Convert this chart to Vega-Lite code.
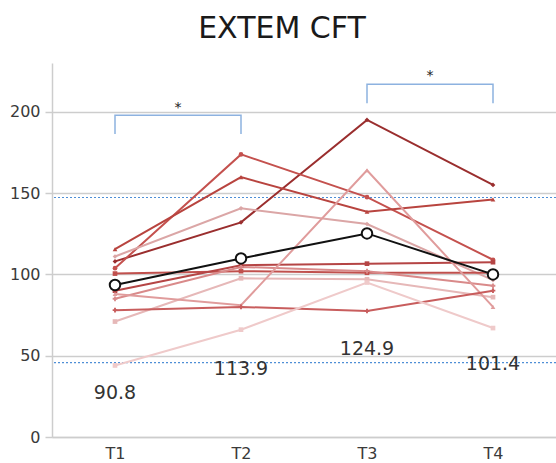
{
  "$schema": "https://vega.github.io/schema/vega-lite/v6.json",
  "width": 504,
  "height": 374,
  "autosize": {"type": "none"},
  "padding": {"left": 52, "top": 63, "right": 0, "bottom": 26},
  "background": "white",
  "config": {"view": {"stroke": null}, "font": "DejaVu Sans"},
  "title": {"text": "EXTEM CFT", "fontSize": 30, "fontWeight": "normal", "color": "#1a1a1a", "anchor": "middle", "dx": -22, "offset": 19, "font": "DejaVu Sans"},
  "datasets": {
    "patients": [
      {"p": "P01", "t": 1, "v": 108}, {"p": "P01", "t": 2, "v": 132}, {"p": "P01", "t": 3, "v": 195}, {"p": "P01", "t": 4, "v": 155},
      {"p": "P02", "t": 1, "v": 103.8}, {"p": "P02", "t": 2, "v": 173.8}, {"p": "P02", "t": 3, "v": 147.5}, {"p": "P02", "t": 4, "v": 109},
      {"p": "P03", "t": 1, "v": 115.5}, {"p": "P03", "t": 2, "v": 159.8}, {"p": "P03", "t": 3, "v": 138.5}, {"p": "P03", "t": 4, "v": 146},
      {"p": "P04", "t": 1, "v": 111}, {"p": "P04", "t": 2, "v": 140.6}, {"p": "P04", "t": 3, "v": 131}, {"p": "P04", "t": 4, "v": 96.5},
      {"p": "P05", "t": 1, "v": 100.5}, {"p": "P05", "t": 2, "v": 102}, {"p": "P05", "t": 3, "v": 101}, {"p": "P05", "t": 4, "v": 101},
      {"p": "P06", "t": 1, "v": 90}, {"p": "P06", "t": 2, "v": 105.6}, {"p": "P06", "t": 3, "v": 106.6}, {"p": "P06", "t": 4, "v": 107.5},
      {"p": "P07", "t": 1, "v": 85}, {"p": "P07", "t": 2, "v": 104.6}, {"p": "P07", "t": 3, "v": 102}, {"p": "P07", "t": 4, "v": 93},
      {"p": "P08", "t": 1, "v": 71}, {"p": "P08", "t": 2, "v": 97.6}, {"p": "P08", "t": 3, "v": 97}, {"p": "P08", "t": 4, "v": 86},
      {"p": "P09", "t": 1, "v": 88}, {"p": "P09", "t": 2, "v": 81}, {"p": "P09", "t": 3, "v": 164}, {"p": "P09", "t": 4, "v": 80},
      {"p": "P10", "t": 1, "v": 78}, {"p": "P10", "t": 2, "v": 80}, {"p": "P10", "t": 3, "v": 77.5}, {"p": "P10", "t": 4, "v": 90},
      {"p": "P11", "t": 1, "v": 44}, {"p": "P11", "t": 2, "v": 66}, {"p": "P11", "t": 3, "v": 95}, {"p": "P11", "t": 4, "v": 67}
    ],
    "mean": [
      {"t": 1, "v": 93.5, "label": "90.8", "ly": 27.2},
      {"t": 2, "v": 109.8, "label": "113.9", "ly": 42},
      {"t": 3, "v": 125.2, "label": "124.9", "ly": 54.3},
      {"t": 4, "v": 100, "label": "101.4", "ly": 45}
    ],
    "refs": [{"r": 147.3}, {"r": 45.7}],
    "brackets": [
      {"b": "A", "o": 1, "t": 1, "v": 186.3}, {"b": "A", "o": 2, "t": 1, "v": 197.9}, {"b": "A", "o": 3, "t": 2, "v": 197.9}, {"b": "A", "o": 4, "t": 2, "v": 186.3},
      {"b": "B", "o": 1, "t": 3, "v": 205.3}, {"b": "B", "o": 2, "t": 3, "v": 217}, {"b": "B", "o": 3, "t": 4, "v": 217}, {"b": "B", "o": 4, "t": 4, "v": 205.3}
    ],
    "stars": [{"t": 1.5, "v": 199.8, "s": "*"}, {"t": 3.5, "v": 219.5, "s": "*"}]
  },
  "layer": [
    {
      "data": {"name": "refs"},
      "mark": {"type": "rule", "color": "#4f8fd6", "strokeWidth": 1.2, "strokeDash": [2, 2]},
      "encoding": {
        "y": {"field": "r", "type": "quantitative", "scale": {"domain": [0, 230], "nice": false},
          "axis": {"values": [0, 50, 100, 150, 200], "grid": true, "gridColor": "#cdcdcd", "gridWidth": 1.5, "domainColor": "#cdcdcd", "domainWidth": 1.5, "tickColor": "#cdcdcd", "tickSize": 7, "tickWidth": 1.5, "labelFontSize": 16, "labelColor": "#3a3a3a", "labelPadding": 5, "title": null}}
      }
    },
    {
      "data": {"name": "patients"},
      "mark": {"type": "line", "strokeWidth": 2},
      "encoding": {
        "x": {"field": "t", "type": "quantitative", "scale": {"domain": [0.5, 4.5], "nice": false},
          "axis": {"values": [1, 2, 3, 4], "labelExpr": "'T' + datum.value", "grid": false, "ticks": false, "domainColor": "#cdcdcd", "domainWidth": 1.5, "labelFontSize": 16, "labelColor": "#3a3a3a", "labelPadding": 8, "title": null}},
        "y": {"field": "v", "type": "quantitative"},
        "color": {"field": "p", "type": "nominal", "legend": null,
          "scale": {"range": ["#9a2e2e", "#c4514e", "#b8443f", "#dba6a6", "#c0504d", "#b54545", "#d98a8a", "#e6b8b8", "#e09c9c", "#c85d5d", "#efcaca"]}},
        "detail": {"field": "p"}
      }
    },
    {
      "data": {"name": "patients"},
      "mark": {"type": "point", "filled": true, "size": 22, "opacity": 1},
      "encoding": {
        "x": {"field": "t", "type": "quantitative"},
        "y": {"field": "v", "type": "quantitative"},
        "color": {"field": "p", "type": "nominal", "legend": null},
        "shape": {"field": "p", "type": "nominal", "legend": null,
          "scale": {"range": ["diamond", "circle", "triangle-up", "diamond", "square", "square", "cross", "square", "triangle-up", "cross", "square"]}}
      }
    },
    {
      "data": {"name": "mean"},
      "mark": {"type": "line", "color": "#111111", "strokeWidth": 2},
      "encoding": {
        "x": {"field": "t", "type": "quantitative"},
        "y": {"field": "v", "type": "quantitative"}
      }
    },
    {
      "data": {"name": "mean"},
      "mark": {"type": "point", "shape": "circle", "filled": false, "fill": "white", "fillOpacity": 1, "stroke": "#111111", "strokeWidth": 2, "size": 110, "opacity": 1},
      "encoding": {
        "x": {"field": "t", "type": "quantitative"},
        "y": {"field": "v", "type": "quantitative"}
      }
    },
    {
      "data": {"name": "mean"},
      "mark": {"type": "text", "fontSize": 19, "color": "#333333", "baseline": "middle", "align": "center", "font": "DejaVu Sans"},
      "encoding": {
        "x": {"field": "t", "type": "quantitative"},
        "y": {"field": "ly", "type": "quantitative"},
        "text": {"field": "label"}
      }
    },
    {
      "data": {"name": "brackets"},
      "mark": {"type": "line", "color": "#8db2e0", "strokeWidth": 1.5},
      "encoding": {
        "x": {"field": "t", "type": "quantitative"},
        "y": {"field": "v", "type": "quantitative"},
        "detail": {"field": "b"},
        "order": {"field": "o", "type": "quantitative"}
      }
    },
    {
      "data": {"name": "stars"},
      "mark": {"type": "text", "fontSize": 14, "color": "#222222", "baseline": "alphabetic", "align": "center"},
      "encoding": {
        "x": {"field": "t", "type": "quantitative"},
        "y": {"field": "v", "type": "quantitative"},
        "text": {"field": "s"}
      }
    }
  ]
}
